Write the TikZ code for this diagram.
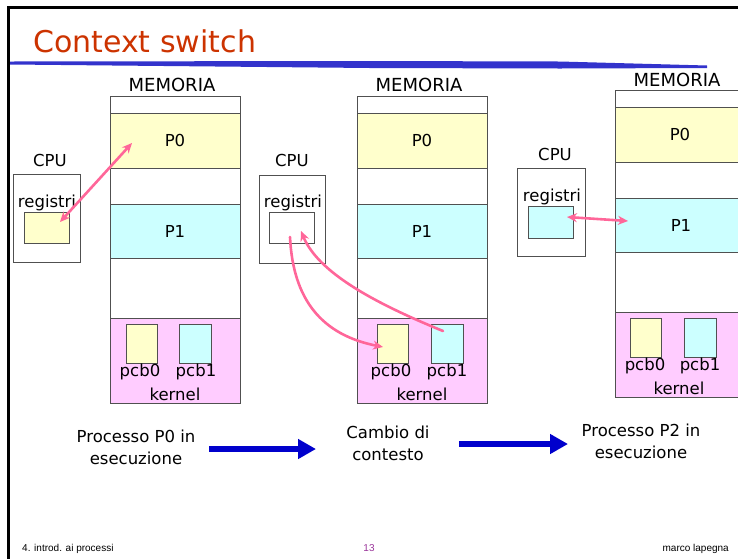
\documentclass[tikz,border=0pt]{standalone}
\usepackage{fontspec}
\setmainfont{DejaVu Sans}
\newfontfamily\footfont{Liberation Sans}
\usetikzlibrary{arrows.meta}

\definecolor{pyellow}{HTML}{FFFFCC}
\definecolor{pcyan}{HTML}{CCFFFF}
\definecolor{pkern}{HTML}{FFCCFF}
\definecolor{linkpink}{HTML}{FF6699}
\definecolor{titlered}{HTML}{CC3300}
\definecolor{flowblue}{HTML}{0000CC}
\definecolor{ruleblue}{HTML}{3333CC}
\definecolor{pagenum}{HTML}{993399}
\definecolor{edge}{HTML}{505050}

\tikzset{
  cell/.style={draw=edge, line width=0.8pt, inner sep=0pt, outer sep=0pt, anchor=north west},
  lbl/.style={font=\fontsize{16.5}{18}\selectfont, inner sep=0pt},
  memlbl/.style={font=\fontsize{18}{20}\selectfont, inner sep=0pt},
  caption/.style={font=\fontsize{16.5}{22}\selectfont, inner sep=0pt, align=center},
  foot/.style={font=\footfont\fontsize{10}{12}\selectfont, inner sep=0pt},
  link/.style={draw=linkpink, line width=2.6pt, line cap=round},
  linktip/.tip={Stealth[length=10pt,width=9pt]},
  flow/.style={draw=flowblue, line width=6pt, -{Triangle[length=18pt,width=19pt]}}
}

\begin{document}
\begin{tikzpicture}[x=1pt,y=-1pt]
\useasboundingbox (0,0) rectangle (738,558);
\clip (0,0) rectangle (738,558);

% page frame and title rule
\draw[line width=3pt] (8.3,560) -- (8.3,7.3) -- (740,7.3);
\fill[ruleblue] (10,61.5) -- (370,61) -- (560,61.5) -- (707,65.5)
  -- (707,68) -- (560,68.5) -- (370,68) -- (10,64.5) -- cycle;
\node[font=\fontsize{30}{32}\selectfont, text=titlered, anchor=base west, inner sep=0pt]
  (title) at (33,52) {Context switch};

% ---------- state 1: P0 running ----------
\node[memlbl] (memlblA) at (172,85) {MEMORIA};
\node[cell, minimum width=130pt, minimum height=307pt] (memA) at (110,96) {};
\node[cell, fill=pyellow, minimum width=130pt, minimum height=55pt] (p0A) at (110,113) {};
\node[lbl] (p0tA) at (p0A.center) {P0};
\node[cell, fill=pcyan, minimum width=130pt, minimum height=54pt] (p1A) at (110,204) {};
\node[lbl] (p1tA) at (p1A.center) {P1};
\node[cell, fill=pkern, minimum width=130pt, minimum height=85pt] (kerA) at (110,318) {};
\node[cell, fill=pyellow, minimum width=31pt, minimum height=39pt] (pcb0A) at (126,324) {};
\node[cell, fill=pcyan, minimum width=32pt, minimum height=39pt] (pcb1A) at (179,324) {};
\node[lbl] (pcb0tA) at (140,372) {pcb0};
\node[lbl] (pcb1tA) at (196,372) {pcb1};
\node[lbl] (kertA) at (175,394) {kernel};
\node[lbl] (cpuA) at (50,160) {CPU};
\node[cell, minimum width=67pt, minimum height=88pt] (cpuboxA) at (13,174) {};
\node[lbl] (regtA) at (47,203) {registri};
\node[cell, fill=pyellow, minimum width=45pt, minimum height=31pt] (regA) at (24,212) {};
\coordinate (lkA1) at (60,222);
\coordinate (lkA2) at (132,143);
\draw[link, linktip-linktip] (lkA1) -- (lkA2);

% ---------- state 2: context switch ----------
\node[memlbl] (memlblB) at (419,85) {MEMORIA};
\node[cell, minimum width=130pt, minimum height=307pt] (memB) at (357,96) {};
\node[cell, fill=pyellow, minimum width=130pt, minimum height=55pt] (p0B) at (357,113) {};
\node[lbl] (p0tB) at (p0B.center) {P0};
\node[cell, fill=pcyan, minimum width=130pt, minimum height=54pt] (p1B) at (357,204) {};
\node[lbl] (p1tB) at (p1B.center) {P1};
\node[cell, fill=pkern, minimum width=130pt, minimum height=85pt] (kerB) at (357,318) {};
\node[cell, fill=pyellow, minimum width=31pt, minimum height=39pt] (pcb0B) at (377,324) {};
\node[cell, fill=pcyan, minimum width=32pt, minimum height=39pt] (pcb1B) at (431,324) {};
\node[lbl] (pcb0tB) at (391,372) {pcb0};
\node[lbl] (pcb1tB) at (447,372) {pcb1};
\node[lbl] (kertB) at (422,394) {kernel};
\node[lbl] (cpuB) at (292,160) {CPU};
\node[cell, minimum width=66pt, minimum height=88pt] (cpuboxB) at (259,175) {};
\node[lbl] (regtB) at (293,203) {registri};
\node[cell, fill=white, minimum width=45pt, minimum height=31pt] (regB) at (269,212) {};
\coordinate (saveS) at (290,237);
\coordinate (saveE) at (383,347);
\coordinate (loadS) at (443,331);
\coordinate (loadE) at (301,231);
\draw[link, -linktip] (saveS) .. controls (293,300) and (322,335) .. (saveE);
\draw[link, -linktip] (loadS) .. controls (372,302) and (318,272) .. (loadE);

% ---------- state 3: P2 running ----------
\node[memlbl] (memlblC) at (677,80) {MEMORIA};
\node[cell, minimum width=130pt, minimum height=307pt] (memC) at (615,90) {};
\node[cell, fill=pyellow, minimum width=130pt, minimum height=55pt] (p0C) at (615,107) {};
\node[lbl] (p0tC) at (680,134) {P0};
\node[cell, fill=pcyan, minimum width=130pt, minimum height=54pt] (p1C) at (615,198) {};
\node[lbl] (p1tC) at (681,225) {P1};
\node[cell, fill=pkern, minimum width=130pt, minimum height=85pt] (kerC) at (615,312) {};
\node[cell, fill=pyellow, minimum width=31pt, minimum height=39pt] (pcb0C) at (630,318) {};
\node[cell, fill=pcyan, minimum width=32pt, minimum height=39pt] (pcb1C) at (684,318) {};
\node[lbl] (pcb0tC) at (645,366) {pcb0};
\node[lbl] (pcb1tC) at (700,366) {pcb1};
\node[lbl] (kertC) at (679,388) {kernel};
\node[lbl] (cpuC) at (555,154) {CPU};
\node[cell, minimum width=68pt, minimum height=88pt] (cpuboxC) at (517,168) {};
\node[lbl] (regtC) at (552,197) {registri};
\node[cell, fill=pcyan, minimum width=45pt, minimum height=32pt] (regC) at (528,206) {};
\coordinate (lkC1) at (567,217);
\coordinate (lkC2) at (628,221);
\draw[link, linktip-linktip] (lkC1) -- (lkC2);

% ---------- captions and flow ----------
\node[caption] (capA) at (136,447) {Processo P0 in\\esecuzione};
\node[caption] (capB) at (388,443.5) {Cambio di\\contesto};
\node[caption] (capC) at (641,441) {Processo P2 in\\esecuzione};
\coordinate (flowAs) at (209,449);
\coordinate (flowAe) at (316,449);
\coordinate (flowBs) at (459,444);
\coordinate (flowBe) at (568,444);
\draw[flow] (flowAs) -- (flowAe);
\draw[flow] (flowBs) -- (flowBe);

% ---------- footer ----------
\node[foot, anchor=base west] (footL) at (22,551) {4. introd. ai processi};
\node[foot, anchor=base, text=pagenum] (footM) at (369,551) {13};
\node[foot, anchor=base east] (footR) at (729,551) {marco lapegna};
\end{tikzpicture}
\end{document}
